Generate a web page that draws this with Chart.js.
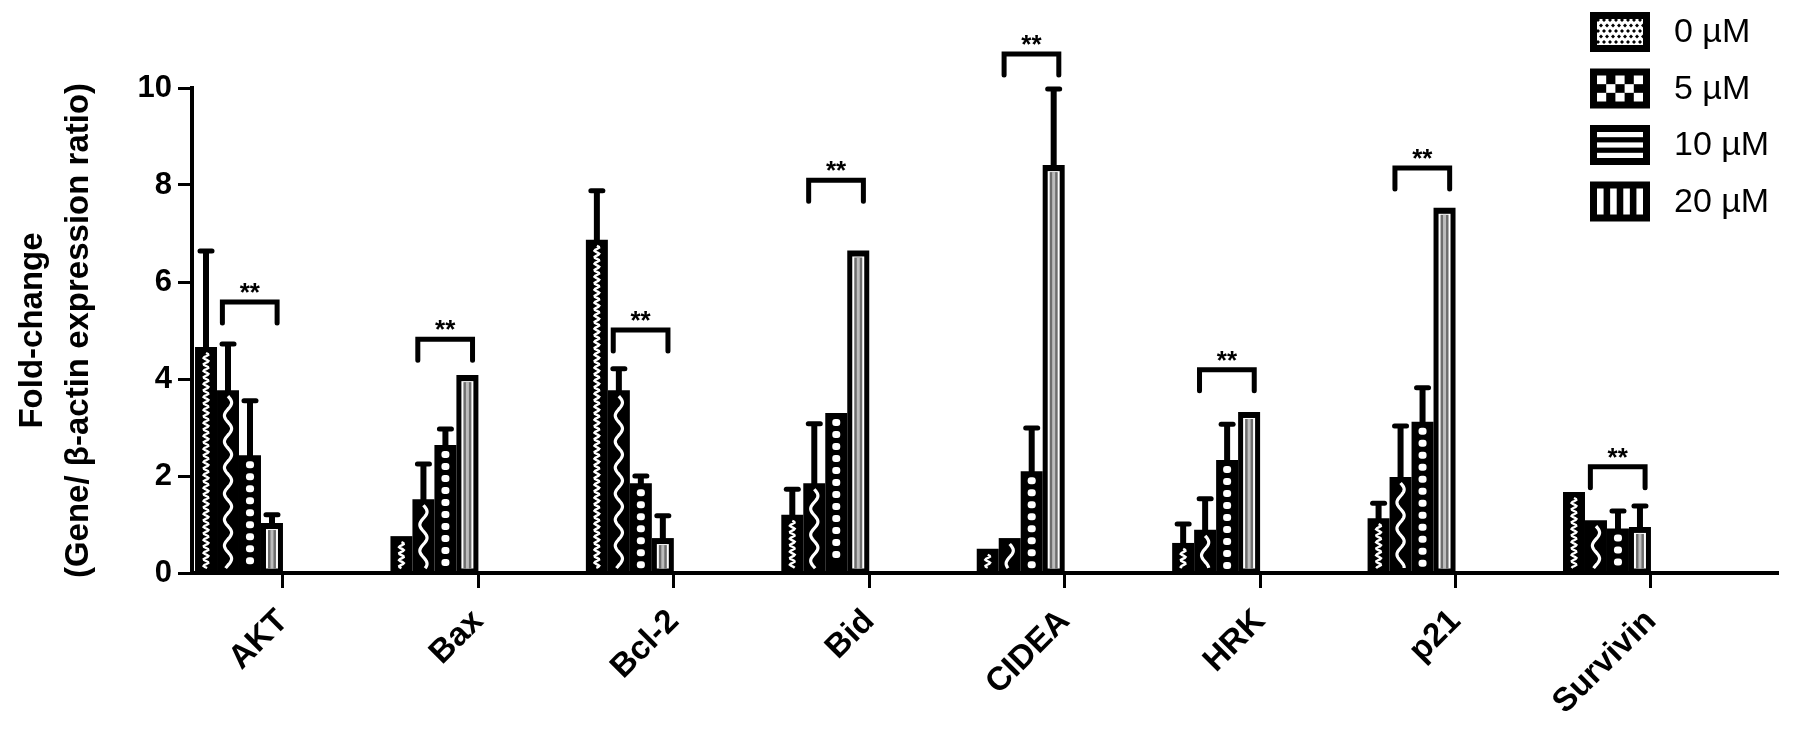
<!DOCTYPE html>
<html>
<head>
<meta charset="utf-8">
<script src="https://cdn.jsdelivr.net/npm/chart.js@4.4.1/dist/chart.umd.min.js"></script>
<style>
  html, body { margin: 0; padding: 0; background: #fff; }
  canvas { display: block; }
</style>
</head>
<body>
<canvas id="geneChart" width="1795" height="731"></canvas>
<script>
const genes = ['AKT', 'Bax', 'Bcl-2', 'Bid', 'CIDEA', 'HRK', 'p21', 'Survivin'];
const doses = ['0 µM', '5 µM', '10 µM', '20 µM'];

// mean fold-change per gene, one array per dose
const fold0  = [4.66, 0.76, 6.87, 1.20, 0.50, 0.62, 1.13, 1.67];
const fold5  = [3.77, 1.52, 3.77, 1.85, 0.72, 0.89, 1.98, 1.09];
const fold10 = [2.43, 2.64, 1.85, 3.30, 2.10, 2.33, 3.12, 0.92];
const fold20 = [1.03, 4.08, 0.72, 6.65, 8.41, 3.32, 7.53, 0.95];

// upper error (SD)
const sd0  = [2.00, 0.00, 1.03, 0.55, 0.00, 0.41, 0.33, 0.00];
const sd5  = [0.97, 0.75, 0.46, 1.25, 0.00, 0.66, 1.07, 0.00];
const sd10 = [1.14, 0.35, 0.17, 0.00, 0.91, 0.76, 0.72, 0.38];
const sd20 = [0.19, 0.00, 0.48, 0.00, 1.59, 0.00, 0.00, 0.45];

// height of the ** bracket over each gene
const sigLevel = [5.59, 4.82, 5.01, 8.10, 10.70, 4.19, 8.35, 2.19];

const barOrder = [fold0, fold5, fold10, fold20];
const sdOrder = [sd0, sd5, sd10, sd20];

const TICK_SHIFT = 0.225; // ticks sit at right edge of each group

// white marks inside each black bar
function barFill(ctx, bar, k) {
  const left = bar.x - bar.width / 2;
  const top = bar.y, bottom = bar.base;
  const cx = bar.x;
  const y0 = top + 6, y1 = bottom - 3;
  if (y1 <= y0) return;
  ctx.save();
  ctx.beginPath();
  ctx.rect(left, top, bar.width, bottom - top);
  ctx.clip();
  ctx.strokeStyle = '#fff';
  ctx.fillStyle = '#fff';
  if (k === 0) {
    ctx.lineWidth = 2.4;
    ctx.beginPath();
    for (let y = y0; y <= y1; y += 1) {
      ctx.lineTo(cx + 2.4 * Math.sin((y - y0) / 6.5 * 2 * Math.PI), y);
    }
    ctx.stroke();
  } else if (k === 1) {
    ctx.lineWidth = 3.2;
    ctx.beginPath();
    for (let y = y0; y <= y1; y += 1) {
      ctx.lineTo(cx + 3.6 * Math.sin((y - y0) / 26 * 2 * Math.PI), y);
    }
    ctx.stroke();
  } else if (k === 2) {
    for (let y = y0; y + 6 <= y1; y += 12) {
      ctx.beginPath();
      ctx.roundRect(cx - 4, y, 8, 7, 3);
      ctx.fill();
    }
  } else {
    ctx.fillStyle = '#fff';
    ctx.fillRect(left + 5, y0, bar.width - 10, y1 - y0);
    ctx.fillStyle = '#6e6e6e';
    ctx.fillRect(left + 7, y0 + 1, bar.width - 14, y1 - y0 - 1);
    ctx.fillStyle = '#bdbdbd';
    ctx.fillRect(cx - 1.5, y0 + 1, 3, y1 - y0 - 1);
  }
  ctx.restore();
}

function swatch(ctx, k, x, y, w, h) {
  ctx.fillStyle = '#000';
  ctx.fillRect(x, y, w, h);
  const b = 7;
  const ix = x + b, iy = y + b, iw = w - 2 * b, ih = h - 2 * b;
  ctx.fillStyle = '#fff';
  if (k === 0) {
    ctx.fillRect(ix, iy, iw, ih);
    ctx.fillStyle = '#000';
    for (let r = 0; r < 5; r++) {
      for (let c = 0; c < 8; c++) {
        const px = ix + 1 + c * 6 + (r % 2 ? 3 : 0);
        const py = iy + 1 + r * 5.5;
        ctx.beginPath();
        ctx.moveTo(px, py - 2); ctx.lineTo(px + 2, py); ctx.lineTo(px, py + 2); ctx.lineTo(px - 2, py);
        ctx.fill();
      }
    }
  } else if (k === 1) {
    const s = iw / 5, t = ih / 3;
    for (let r = 0; r < 3; r++) {
      for (let c = 0; c < 5; c++) {
        if ((r + c) % 2 === 0) ctx.fillRect(ix + c * s, iy + r * t, s, t);
      }
    }
  } else if (k === 2) {
    const t = ih / 5;
    for (let r = 0; r < 3; r++) ctx.fillRect(ix, iy + r * 2 * t, iw, t);
  } else {
    const s = iw / 7;
    for (let c = 0; c < 4; c++) ctx.fillRect(ix + c * 2 * s, iy, s, ih);
  }
}

const marksPlugin = {
  id: 'marks',
  afterDatasetsDraw(chart) {
    const ctx = chart.ctx;
    const ys = chart.scales.y;
    chart.data.datasets.forEach((ds, k) => {
      chart.getDatasetMeta(k).data.forEach((el, i) => {
        const bar = el.getProps(['x', 'y', 'base', 'width'], true);
        barFill(ctx, bar, k);
        const sd = sdOrder[k][i];
        if (sd > 0) {
          const yTop = ys.getPixelForValue(barOrder[k][i] + sd);
          ctx.save();
          ctx.strokeStyle = '#000';
          ctx.lineWidth = 6;
          ctx.beginPath();
          ctx.moveTo(bar.x, bar.y + 2);
          ctx.lineTo(bar.x, yTop);
          ctx.stroke();
          ctx.lineWidth = 5;
          ctx.lineCap = 'round';
          ctx.beginPath();
          ctx.moveTo(bar.x - 6, yTop + 1);
          ctx.lineTo(bar.x + 6, yTop + 1);
          ctx.stroke();
          ctx.restore();
        }
      });
    });
  },
  afterDraw(chart) {
    const ctx = chart.ctx;
    const xs = chart.scales.x, ys = chart.scales.y;
    ctx.save();
    // significance brackets
    genes.forEach((g, i) => {
      const xl = xs.getPixelForValue(i - 0.085);
      const xr = xs.getPixelForValue(i + 0.195);
      const yt = ys.getPixelForValue(sigLevel[i]);
      ctx.strokeStyle = '#000';
      ctx.lineWidth = 5;
      ctx.lineJoin = 'miter';
      ctx.lineCap = 'round';
      ctx.beginPath();
      ctx.moveTo(xl, yt + 21);
      ctx.lineTo(xl, yt);
      ctx.lineTo(xr, yt);
      ctx.lineTo(xr, yt + 21);
      ctx.stroke();
      ctx.fillStyle = '#000';
      ctx.font = 'bold 26px "Liberation Sans", Arial, sans-serif';
      ctx.textAlign = 'center';
      ctx.textBaseline = 'alphabetic';
      ctx.fillText('**', (xl + xr) / 2, yt - 1);
    });
    // legend
    ctx.font = '34px "Liberation Sans", Arial, sans-serif';
    ctx.textAlign = 'left';
    ctx.textBaseline = 'middle';
    doses.forEach((d, k) => {
      const y = 12 + k * 56.5;
      swatch(ctx, k, 1590, y, 60, 40);
      ctx.fillStyle = '#000';
      ctx.fillText(d, 1674, y + 21);
    });
    ctx.restore();
  }
};

const datasets = doses.map((d, k) => ({
  label: d,
  data: genes.map((g, i) => ({ x: i, y: barOrder[k][i] })),
  backgroundColor: '#000',
  borderWidth: 0,
  categoryPercentage: 0.45,
  barPercentage: 1.0
}));

const ctx = document.getElementById('geneChart').getContext('2d');
const geneChart = new Chart(ctx, {
  type: 'bar',
  data: { datasets: datasets },
  options: {
    responsive: false,
    animation: false,
    layout: { padding: { top: 88, right: 18, bottom: 0, left: 0 } },
    plugins: {
      legend: { display: false },
      tooltip: { enabled: false }
    },
    scales: {
      x: {
        type: 'linear',
        offset: false,
        min: -0.2405,
        max: 7.87,
        afterBuildTicks: (s) => { s.ticks = genes.map((g, i) => ({ value: i + TICK_SHIFT })); },
        afterFit: (s) => { s.height = 158; },
        grid: { offset: false, drawOnChartArea: false, drawTicks: true, tickLength: 15, color: '#000', lineWidth: 3 },
        border: { display: true, color: '#000', width: 4 },
        ticks: {
          autoSkip: false,
          minRotation: 45,
          maxRotation: 45,
          padding: 14,
          color: '#000',
          font: { family: '"Liberation Sans", Arial, sans-serif', size: 33, weight: 'bold' },
          callback: (v, i) => genes[i]
        }
      },
      y: {
        min: 0,
        max: 10,
        afterFit: (s) => { s.width = 192; },
        grid: { drawOnChartArea: false, drawTicks: true, tickLength: 14, color: '#000', lineWidth: 3 },
        border: { display: true, color: '#000', width: 4 },
        ticks: {
          stepSize: 2,
          padding: 6,
          color: '#000',
          font: { family: '"Liberation Sans", Arial, sans-serif', size: 31, weight: 'bold' }
        },
        title: {
          display: true,
          text: ['Fold-change', '(Gene/ β-actin expression ratio)'],
          color: '#000',
          padding: { top: 10, bottom: 0 },
          font: { family: '"Liberation Sans", Arial, sans-serif', size: 33, weight: 'bold', lineHeight: 1.4 }
        }
      }
    }
  },
  plugins: [marksPlugin]
});
</script>
</body>
</html>
